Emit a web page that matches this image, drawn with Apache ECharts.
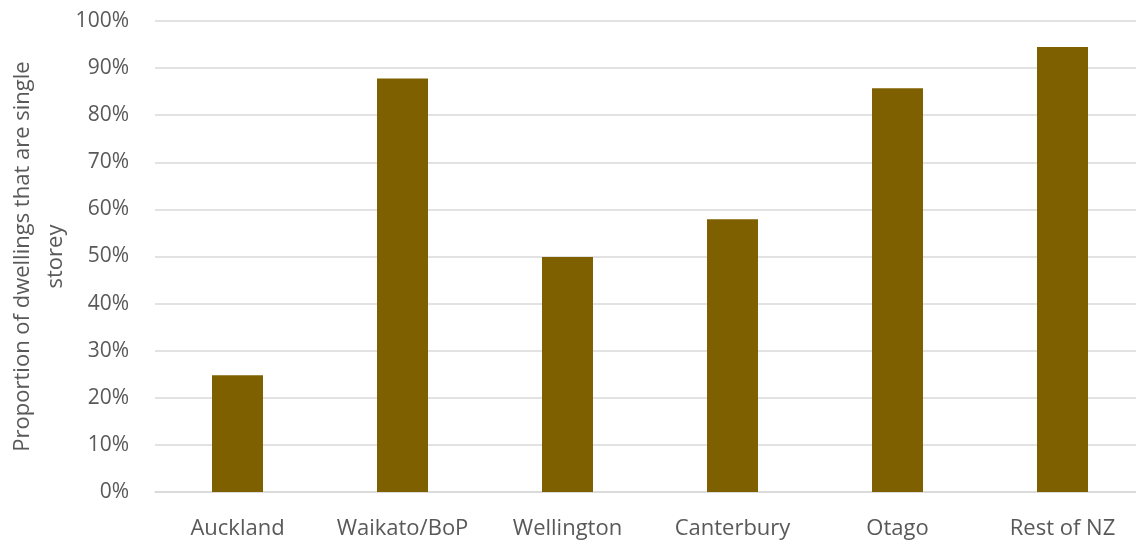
<!DOCTYPE html>
<html>
<head>
<meta charset="utf-8">
<script src="https://cdn.jsdelivr.net/npm/echarts@6/dist/echarts.min.js"></script>
<style>html,body{margin:0;padding:0;background:#fff;}#c{width:1136px;height:545px;}</style>
</head>
<body>
<div id="c"></div>
<script>
const categories = ['Auckland', 'Waikato/BoP', 'Wellington', 'Canterbury', 'Otago', 'Rest of NZ'];
const values = [24.8, 87.8, 49.9, 57.9, 85.7, 94.5];
const yTicks = [0, 10, 20, 30, 40, 50, 60, 70, 80, 90, 100];

const chart = echarts.init(document.getElementById('c'), null, {renderer: 'canvas'});
const font = '"Open Sans", "Noto Sans", sans-serif';
chart.setOption({
  animation: false,
  grid: {left: 155, top: 21, width: 990, height: 471, containLabel: false, outerBoundsMode: 'none'},
  xAxis: {
    type: 'category',
    data: categories,
    axisLine: {lineStyle: {color: '#d9d9d9', width: 1.5}},
    axisTick: {show: false},
    axisLabel: {color: '#595959', fontSize: 22, fontFamily: font, margin: 26, interval: 0, hideOverlap: false}
  },
  yAxis: {
    type: 'value',
    min: yTicks[0],
    max: yTicks[yTicks.length - 1],
    interval: 10,
    name: 'Proportion of dwellings that are single\nstorey',
    nameLocation: 'middle',
    nameRotate: 90,
    nameGap: 83,
    nameMoveOverlap: false,
    nameTextStyle: {color: '#595959', fontSize: 22, fontFamily: font, lineHeight: 33},
    axisLine: {show: false},
    axisTick: {show: false},
    splitLine: {lineStyle: {color: '#d9d9d9', width: 1.5}},
    axisLabel: {color: '#595959', fontSize: 21, fontFamily: font, margin: 26, formatter: v => v + '%'}
  },
  series: [{
    type: 'bar',
    data: values,
    barWidth: 51,
    itemStyle: {color: '#7F6000'}
  }]
});
</script>
</body>
</html>
